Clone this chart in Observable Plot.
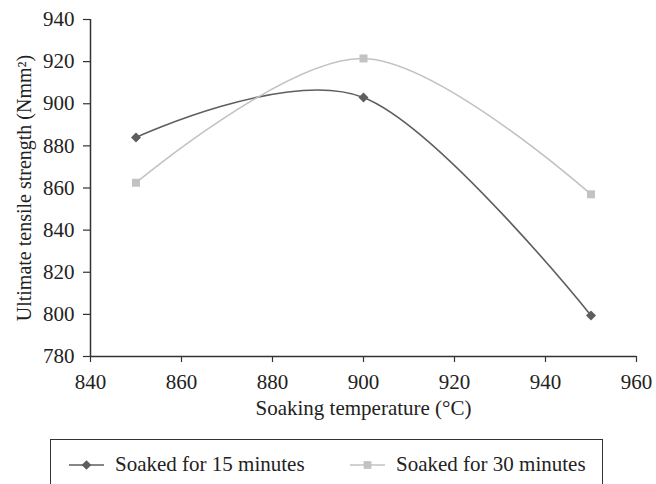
<!DOCTYPE html>
<html>
<head>
<meta charset="utf-8">
<script src="https://cdn.jsdelivr.net/npm/d3@7"></script>
<script src="https://cdn.jsdelivr.net/npm/@observablehq/plot@0.6"></script>
<style>
  body { margin: 0; background: #fff; }
  #chart svg { display: block; }
  .legend { position: absolute; left: 50px; top: 439px; width: 553px; height: 70px; border: 1px solid #333; box-sizing: border-box; }
  .item { position: absolute; top: 12px; display: flex; align-items: center; font-size: 21px; color: #222; font-family: "Liberation Serif"; }
  .item svg { margin-right: 10px; }
</style>
</head>
<body>
<div id="chart"></div>
<div class="legend" id="legend"></div>
<script>
const temps = [850, 900, 950];
const uts15 = [884, 903, 799.5];
const uts30 = [862.5, 921.5, 857];
const seriesNames = ["Soaked for 15 minutes", "Soaked for 30 minutes"];
const seriesColors = ["#5e5e5e", "#c2c2c4"];
const seriesSymbols = ["diamond2", "square"];
const xTicks = [840, 860, 880, 900, 920, 940, 960];
const yTicks = [780, 800, 820, 840, 860, 880, 900, 920, 940];

const rows = [];
temps.forEach((t, i) => {
  rows.push({temp: t, uts: uts15[i], series: seriesNames[0]});
  rows.push({temp: t, uts: uts30[i], series: seriesNames[1]});
});

const plot = Plot.plot({
  width: 656,
  height: 432,
  marginLeft: 90,
  marginRight: 20,
  marginTop: 19,
  marginBottom: 76,
  style: {fontFamily: "'Liberation Serif'", fontSize: "21px", color: "#222", background: "#fff"},
  x: {domain: [840, 960], ticks: xTicks, label: null},
  y: {domain: [780, 940], ticks: yTicks, label: null},
  color: {domain: seriesNames, range: seriesColors},
  symbol: {domain: seriesNames, range: seriesSymbols},
  marks: [
    Plot.axisX({ticks: xTicks, tickSize: 6, tickPadding: 12, stroke: "#333", strokeWidth: 1.2, label: null, fontFamily: "Liberation Serif", fontSize: 21}),
    Plot.axisY({ticks: yTicks, tickSize: 7, tickPadding: 9, stroke: "#333", strokeWidth: 1.2, label: null, fontFamily: "Liberation Serif", fontSize: 21}),
    Plot.ruleX([840], {stroke: "#333", strokeWidth: 1.5}),
    Plot.ruleY([780], {stroke: "#333", strokeWidth: 1.5}),
    Plot.line(rows, {x: "temp", y: "uts", stroke: "series", z: "series", curve: "cardinal", strokeWidth: 1.6}),
    Plot.dot(rows, {x: "temp", y: "uts", fill: "series", symbol: "series", r: 4.5, stroke: null}),
    Plot.text(["Soaking temperature (°C)"], {frameAnchor: "bottom", dy: 58, fontSize: 21, fontFamily: "Liberation Serif", fill: "#222"}),
    Plot.text(["Ultimate tensile strength (Nmm²)"], {frameAnchor: "left", textAnchor: "middle", dx: -66, rotate: -90, fontSize: 20, fontFamily: "Liberation Serif", fill: "#222"})
  ]
});
document.getElementById("chart").appendChild(plot);

const legend = document.getElementById("legend");
const lefts = [17, 298];
seriesNames.forEach((name, i) => {
  const item = document.createElement("div");
  item.className = "item";
  item.style.left = lefts[i] + "px";
  const sw = d3.create("svg").attr("width", 37).attr("height", 20);
  sw.append("line").attr("x1", 1).attr("x2", 36).attr("y1", 10).attr("y2", 10)
    .attr("stroke", seriesColors[i]).attr("stroke-width", 1.6);
  const sym = i === 0 ? d3.symbolDiamond2 : d3.symbolSquare;
  sw.append("path").attr("d", d3.symbol(sym, 60)()).attr("transform", "translate(18.5,10)")
    .attr("fill", seriesColors[i]);
  item.appendChild(sw.node());
  const span = document.createElement("span");
  span.textContent = name;
  item.appendChild(span);
  legend.appendChild(item);
});
</script>
</body>
</html>
